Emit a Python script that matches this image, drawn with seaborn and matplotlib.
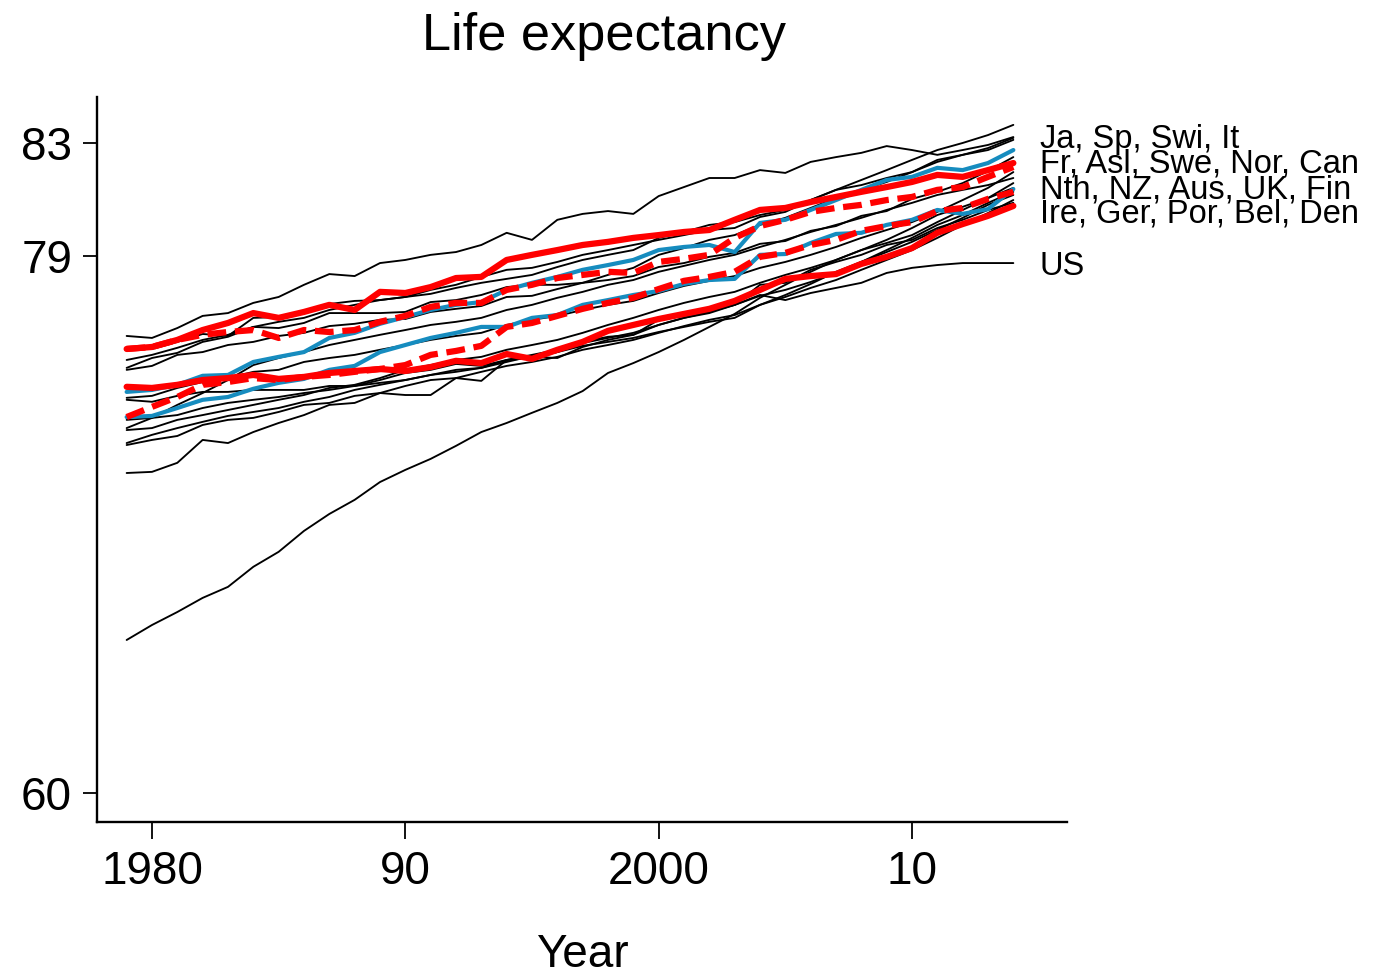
import matplotlib
matplotlib.use("Agg")
import matplotlib.pyplot as plt
import seaborn as sns

years = list(range(1979, 2015))

# Life expectancy at birth, one series per country (1979-2014)
other_01 = [76.17, 76.10, 76.45, 76.88, 76.98, 77.34, 77.55, 77.98, 78.36, 78.29, 78.75, 78.86,
            79.04, 79.14, 79.39, 79.82, 79.57, 80.28, 80.49, 80.59, 80.49, 81.12, 81.44, 81.76,
            81.76, 82.04, 81.94, 82.33, 82.50, 82.65, 82.89, 82.75, 82.58, 82.75, 82.93, 83.21]
other_02 = [75.71, 75.71, 75.96, 76.24, 76.17, 76.81, 76.84, 76.98, 77.30, 77.41, 77.44, 77.55,
            77.66, 77.87, 78.05, 78.19, 78.33, 78.61, 78.86, 79.04, 79.21, 79.64, 79.85, 80.10,
            80.20, 80.45, 80.63, 80.98, 81.34, 81.69, 82.04, 82.40, 82.75, 83.00, 83.28, 83.64]
other_03 = [75.04, 75.39, 75.57, 75.96, 76.14, 76.49, 76.45, 76.63, 76.98, 76.98, 76.98, 77.02,
            77.37, 77.44, 77.62, 77.90, 77.98, 77.98, 78.05, 78.33, 78.58, 79.04, 79.28, 79.57,
            79.74, 80.10, 80.35, 80.70, 81.05, 81.34, 81.62, 81.97, 82.33, 82.58, 82.75, 83.11]
other_04 = [74.97, 75.11, 75.50, 75.60, 75.85, 75.96, 76.17, 76.28, 76.52, 76.60, 76.74, 76.77,
            77.02, 77.13, 77.23, 77.55, 77.59, 77.83, 78.05, 78.15, 78.29, 78.61, 78.75, 78.97,
            79.11, 79.43, 79.53, 79.89, 80.06, 80.42, 80.59, 81.02, 81.27, 81.58, 82.01, 82.50]
other_05 = [73.98, 74.05, 74.33, 74.54, 74.68, 74.90, 74.97, 75.25, 75.39, 75.50, 75.68, 75.85,
            76.03, 76.17, 76.28, 76.56, 76.74, 76.88, 77.09, 77.27, 77.41, 77.69, 77.94, 78.12,
            78.29, 78.58, 78.79, 79.04, 79.32, 79.64, 79.92, 80.20, 80.56, 80.98, 81.41, 81.97]
other_06 = [72.91, 73.27, 73.73, 74.15, 74.61, 75.14, 75.39, 75.60, 75.85, 76.03, 76.21, 76.38,
            76.56, 76.67, 76.81, 77.09, 77.27, 77.52, 77.73, 77.98, 78.15, 78.44, 78.65, 78.86,
            79.04, 79.32, 79.57, 79.85, 80.10, 80.35, 80.63, 80.88, 81.16, 81.34, 81.51, 81.76]
other_07 = [72.84, 72.91, 73.20, 73.37, 73.55, 73.73, 73.91, 74.08, 74.33, 74.44, 74.68, 74.97,
            75.14, 75.32, 75.43, 75.68, 75.85, 76.03, 76.28, 76.56, 76.81, 77.09, 77.34, 77.55,
            77.73, 78.05, 78.33, 78.58, 78.86, 79.21, 79.46, 79.74, 80.20, 80.63, 81.05, 81.58]
other_08 = [72.38, 72.67, 72.91, 73.13, 73.34, 73.48, 73.62, 73.84, 74.01, 74.26, 74.44, 74.61,
            74.79, 74.97, 75.04, 75.32, 75.50, 75.68, 75.92, 76.10, 76.28, 76.56, 76.81, 77.02,
            77.27, 77.59, 77.80, 78.08, 78.40, 78.79, 79.14, 79.50, 79.92, 80.35, 80.81, 81.16]
other_09 = [72.31, 72.49, 72.63, 73.02, 73.20, 73.27, 73.48, 73.73, 73.80, 74.05, 74.15, 74.40,
            74.61, 74.68, 74.90, 75.11, 75.25, 75.43, 75.68, 75.85, 76.03, 76.28, 76.52, 76.74,
            76.91, 77.27, 77.55, 77.87, 78.15, 78.51, 78.86, 79.21, 79.64, 80.10, 80.52, 80.98]
other_10 = [75.32, 75.50, 75.75, 76.03, 76.21, 76.49, 76.67, 76.81, 77.09, 77.27, 77.44, 77.55,
            77.80, 77.98, 78.26, 78.51, 78.58, 78.79, 79.04, 79.21, 79.39, 79.57, 79.74, 79.92,
            79.99, 80.38, 80.56, 80.98, 81.34, 81.51, 81.76, 81.97, 82.40, 82.58, 82.82, 83.18]
other_11 = [71.32, 71.36, 71.68, 72.49, 72.38, 72.77, 73.09, 73.37, 73.73, 73.80, 74.15, 74.08,
            74.08, 74.68, 74.58, 75.32, 75.43, 75.39, 75.78, 76.03, 76.21, 76.56, 76.81, 76.98,
            77.27, 77.98, 78.05, 78.51, 78.79, 79.04, 79.39, 79.57, 79.99, 80.28, 80.63, 80.88]
other_12 = [73.20, 73.27, 73.37, 73.62, 73.80, 73.91, 74.01, 74.15, 74.26, 74.40, 74.51, 74.61,
            74.79, 74.90, 75.04, 75.25, 75.46, 75.60, 75.82, 75.96, 76.10, 76.31, 76.49, 76.67,
            76.81, 77.27, 77.62, 78.01, 78.44, 78.79, 79.21, 79.64, 80.10, 80.45, 80.88, 81.27]
other_13 = [65.41, 65.94, 66.40, 66.90, 67.29, 68.00, 68.53, 69.27, 69.87, 70.37, 71.00, 71.43,
            71.82, 72.28, 72.77, 73.09, 73.45, 73.80, 74.22, 74.86, 75.21, 75.60, 76.03, 76.49,
            76.95, 77.52, 77.98, 78.44, 78.86, 79.21, 79.57, 79.99, 80.45, 80.74, 81.05, 81.41]
us = [73.91, 73.84, 74.05, 74.19, 74.19, 74.26, 74.26, 74.26, 74.40, 74.40, 74.61, 74.86,
      74.97, 75.18, 75.11, 75.32, 75.39, 75.60, 75.96, 76.14, 76.21, 76.74, 76.88, 77.09,
      77.27, 77.62, 77.44, 77.69, 77.87, 78.05, 78.40, 78.58, 78.68, 78.75, 78.75, 78.75]

blue_1 = [74.19, 74.26, 74.44, 74.76, 74.79, 75.25, 75.43, 75.60, 76.10, 76.28, 76.60, 76.84,
          77.09, 77.27, 77.37, 77.80, 78.05, 78.26, 78.51, 78.68, 78.86, 79.21, 79.32, 79.39,
          79.14, 80.17, 80.28, 80.63, 80.98, 81.34, 81.69, 81.80, 82.12, 82.04, 82.29, 82.75]
blue_2 = [73.30, 73.34, 73.62, 73.91, 74.01, 74.30, 74.51, 74.65, 74.97, 75.11, 75.60, 75.85,
          76.10, 76.28, 76.49, 76.49, 76.81, 76.91, 77.27, 77.44, 77.62, 77.76, 78.01, 78.15,
          78.19, 79.04, 79.07, 79.46, 79.78, 79.82, 80.10, 80.28, 80.63, 80.49, 80.66, 81.37]

red_1 = [75.71, 75.78, 76.03, 76.38, 76.63, 76.98, 76.81, 77.02, 77.27, 77.09, 77.73, 77.69,
         77.90, 78.22, 78.26, 78.86, 79.04, 79.21, 79.39, 79.50, 79.64, 79.74, 79.85, 79.92,
         80.28, 80.63, 80.70, 80.91, 81.09, 81.27, 81.44, 81.62, 81.87, 81.80, 82.04, 82.29]
red_2 = [74.37, 74.33, 74.44, 74.61, 74.68, 74.79, 74.65, 74.72, 74.86, 74.93, 75.00, 74.93,
         75.07, 75.29, 75.21, 75.53, 75.36, 75.68, 75.96, 76.35, 76.56, 76.77, 76.95, 77.13,
         77.41, 77.80, 78.19, 78.29, 78.36, 78.72, 78.97, 79.28, 79.82, 80.13, 80.42, 80.77]
red_dash_1 = [75.71, 75.78, 76.03, 76.21, 76.31, 76.38, 76.10, 76.38, 76.31, 76.38, 76.67, 76.88,
              77.20, 77.34, 77.34, 77.80, 77.98, 78.22, 78.33, 78.44, 78.40, 78.79, 78.90, 79.04,
              79.64, 80.06, 80.28, 80.56, 80.70, 80.81, 80.98, 81.09, 81.34, 81.44, 81.80, 82.15]
red_dash_2 = [73.30, 73.66, 74.01, 74.44, 74.54, 74.68, 74.61, 74.72, 74.79, 74.90, 75.00, 75.14,
              75.50, 75.64, 75.82, 76.49, 76.63, 76.88, 77.13, 77.34, 77.52, 77.83, 78.12, 78.26,
              78.44, 78.97, 79.11, 79.39, 79.57, 79.89, 80.06, 80.20, 80.59, 80.70, 81.02, 81.27]

group_labels = ["Ja, Sp, Swi, It", "Fr, Asl, Swe, Nor, Can", "Nth, NZ, Aus, UK, Fin",
                "Ire, Ger, Por, Bel, Den", "US"]
y_ticks = [60, 79, 83]
x_ticks = [1980, 1990, 2000, 2010]
x_tick_labels = ["1980", "90", "2000", "10"]

sns.set_style("ticks")
plt.rcParams["font.family"] = ["Liberation Sans", "DejaVu Sans"]
plt.rcParams.update({
    "text.color": "black",
    "axes.labelcolor": "black",
    "axes.edgecolor": "black",
    "xtick.color": "black",
    "ytick.color": "black",
})

RED = "#ff0000"
BLUE = "#168cbf"

fig = plt.figure(figsize=(13.74, 9.74), dpi=100)
ax = fig.add_axes([0.0706, 0.1561, 0.7060, 0.7444])

black_series = [other_01, other_02, other_03, other_04, other_05, other_06, other_07,
                other_08, other_09, other_10, other_11, other_12, other_13, us]
for s in black_series:
    sns.lineplot(x=years, y=s, color="black", linewidth=1.35, ax=ax)
for s in [blue_1, blue_2]:
    sns.lineplot(x=years, y=s, color=BLUE, linewidth=3.0, ax=ax)
for s in [red_1, red_2]:
    sns.lineplot(x=years, y=s, color=RED, linewidth=4.5, ax=ax)
for s in [red_dash_1, red_dash_2]:
    sns.lineplot(x=years, y=s, color=RED, linewidth=4.5, ax=ax)
    ax.lines[-1].set_dashes((3.0, 1.4))

ax.set_xlim(1977.83, 2016.12)
ax.set_ylim(58.97, 84.63)
ax.set_xticks(x_ticks)
ax.set_xticklabels(x_tick_labels)
ax.set_yticks(y_ticks)
ax.tick_params(axis="both", labelsize=33, width=1.3, direction="out", colors="black")
ax.tick_params(axis="x", length=12, pad=8)
ax.tick_params(axis="y", length=10, pad=8)
for side in ["top", "right"]:
    ax.spines[side].set_visible(False)
for side in ["left", "bottom"]:
    ax.spines[side].set_linewidth(1.7)
    ax.spines[side].set_color("black")
ax.set_xlabel("Year", fontsize=33, labelpad=28, color="black")
ax.set_ylabel("")

# group labels to the right of the line ends
label_baselines = [82.82, 81.94, 81.05, 80.17, 78.33]
for text, yb in zip(group_labels, label_baselines):
    ax.text(2015.05, yb, text, fontsize=23.5, va="baseline", ha="left",
            color="black", clip_on=False)

fig.text(0.4396, 0.9487, "Life expectancy", fontsize=37.7, ha="center",
         va="baseline", color="black")

fig.savefig("out.png", dpi=100)
